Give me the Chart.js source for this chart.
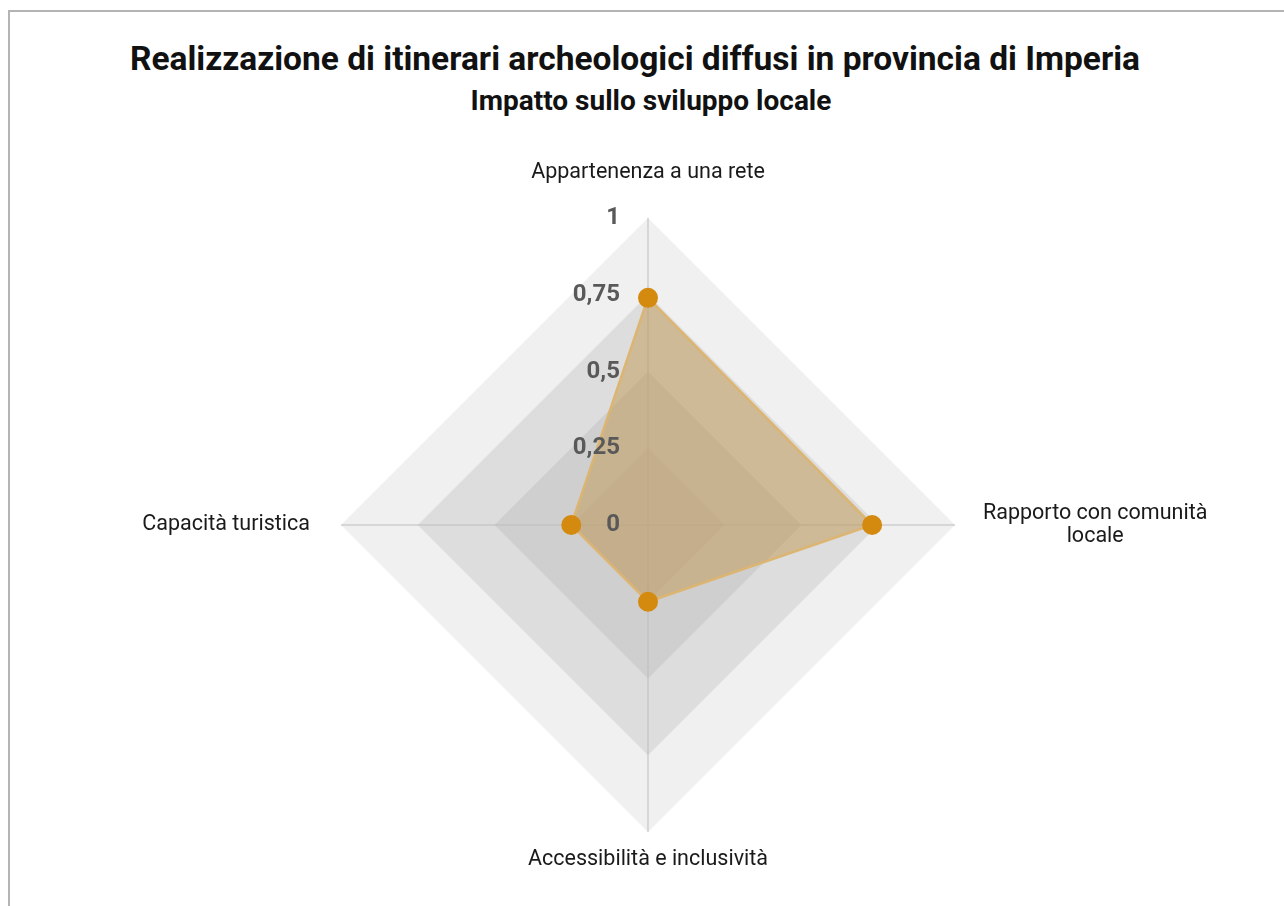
<!DOCTYPE html>
<html lang="it">
<head>
<meta charset="utf-8">
<title>Impatto sullo sviluppo locale</title>
<script src="https://cdn.jsdelivr.net/npm/chart.js@4"></script>
<style>
  html, body { margin: 0; padding: 0; background: #fff; }
  body { width: 1284px; height: 906px; position: relative; overflow: hidden; font-family: Roboto, sans-serif; }
  .frame { position: absolute; left: 8px; top: 10px; width: 1400px; height: 1000px; border-left: 2px solid #b4b4b4; border-top: 2px solid #b4b4b4; }
  .title { position: absolute; left: 0; width: 1270px; top: 39px; text-align: center; font-weight: 700; font-size: 33.5px; color: #111; }
  .subtitle { position: absolute; left: 0; width: 1302px; top: 84px; text-align: center; font-weight: 700; font-size: 28px; color: #111; }
  .chart-box { position: absolute; left: 0; top: 0; width: 1284px; height: 906px; }
</style>
</head>
<body>
<div class="frame"></div>
<div class="title">Realizzazione di itinerari archeologici diffusi in provincia di Imperia</div>
<div class="subtitle">Impatto sullo sviluppo locale</div>
<div class="chart-box"><canvas id="radar"></canvas></div>
<script>
// assi del radar (partendo dall'alto, senso orario)
const categories = [
  'Appartenenza a una rete',
  ['Rapporto con comunità', 'locale'],
  'Accessibilità e inclusività',
  'Capacità turistica',
]
const impatto = [0.74, 0.73, 0.25, 0.25]
const tickValues = [0, 0.25, 0.5, 0.75, 1]
const tickLabels = ['0', '0,25', '0,5', '0,75', '1']
const bandColors = ['#f0f0f0', '#dddddd', '#d0cfd0', '#c8c5c8']

// fasce grigie tra gli anelli della griglia
const bandsPlugin = {
  id: 'bands',
  beforeDraw(chart) {
    const scale = chart.scales.r
    const ctx = chart.ctx
    const n = chart.data.labels.length
    const rings = tickValues.slice(1).reverse()
    rings.forEach((v, k) => {
      const d = scale.getDistanceFromCenterForValue(v)
      ctx.save()
      ctx.beginPath()
      for (let i = 0; i < n; i++) {
        const p = scale.getPointPosition(i, d)
        if (i === 0) ctx.moveTo(p.x, p.y)
        else ctx.lineTo(p.x, p.y)
      }
      ctx.closePath()
      ctx.fillStyle = bandColors[k]
      ctx.fill()
      ctx.restore()
    })
  },
}

// etichette dei valori e delle categorie
const labelsPlugin = {
  id: 'labels',
  afterDraw(chart) {
    const scale = chart.scales.r
    const ctx = chart.ctx
    ctx.save()
    ctx.font = 'bold 24px Roboto'
    ctx.fillStyle = '#595959'
    ctx.textAlign = 'right'
    ctx.textBaseline = 'middle'
    tickValues.forEach((v, i) => {
      const d = scale.getDistanceFromCenterForValue(v)
      ctx.fillText(tickLabels[i], scale.xCenter - 28, scale.yCenter - d)
    })

    ctx.font = '21.5px Roboto'
    ctx.fillStyle = '#1a1a1a'
    const gaps = [45, 28, 28, 31]
    const lineH = 23
    categories.forEach((label, i) => {
      const lines = Array.isArray(label) ? label : [label]
      const p = scale.getPointPosition(i, scale.drawingArea + gaps[i])
      const widths = lines.map(l => ctx.measureText(l).width)
      const maxW = Math.max(...widths)
      let cx = p.x
      if (i === 1) cx = p.x + maxW / 2
      if (i === 3) cx = p.x - maxW / 2
      const y0 = p.y - ((lines.length - 1) * lineH) / 2
      ctx.textAlign = 'center'
      lines.forEach((l, j) => ctx.fillText(l, cx, y0 + j * lineH))
    })
    ctx.restore()
  },
}

new Chart(document.getElementById('radar'), {
  type: 'radar',
  data: {
    labels: categories,
    datasets: [
      {
        label: 'Impatto',
        data: impatto,
        backgroundColor: 'rgba(192, 152, 80, 0.5)',
        borderColor: '#dcb572',
        borderWidth: 2.5,
        pointBackgroundColor: '#d4890f',
        pointBorderWidth: 0,
        pointRadius: 10,
        pointHoverRadius: 10,
      },
    ],
  },
  options: {
    responsive: true,
    maintainAspectRatio: false,
    animation: false,
    layout: { padding: { top: 218, bottom: 74, left: 100, right: 88 } },
    plugins: {
      legend: { display: false },
      tooltip: { enabled: false },
    },
    scales: {
      r: {
        min: 0,
        max: 1,
        ticks: { stepSize: 0.25, display: false },
        grid: { display: false },
        angleLines: { color: '#bdbdbd', lineWidth: 1 },
        pointLabels: { display: false },
      },
    },
  },
  plugins: [bandsPlugin, labelsPlugin],
})
</script>
</body>
</html>
